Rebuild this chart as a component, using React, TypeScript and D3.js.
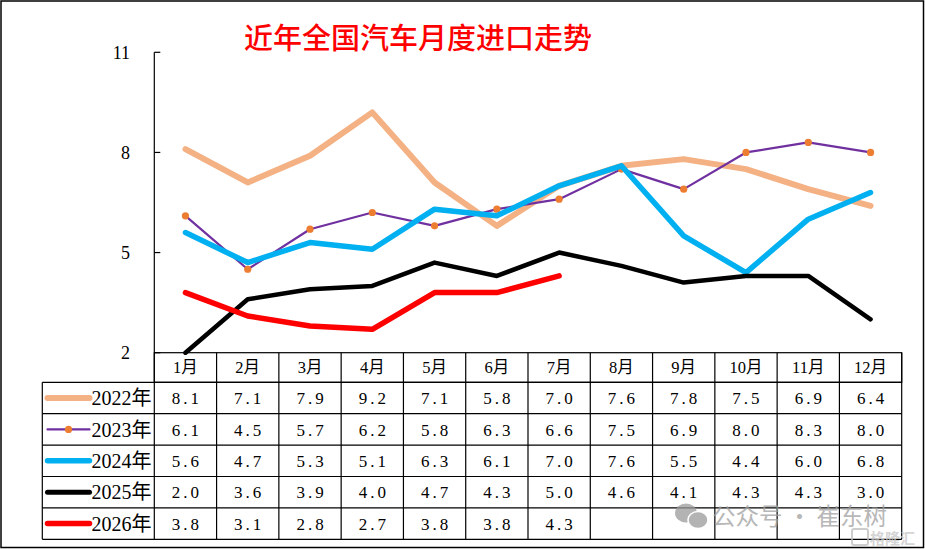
import React from "react";
import * as d3 from "d3";

const months = ["1月", "2月", "3月", "4月", "5月", "6月", "7月", "8月", "9月", "10月", "11月", "12月"];
const yearLabels = ["2022年", "2023年", "2024年", "2025年", "2026年"];
const v2022 = [8.1, 7.1, 7.9, 9.2, 7.1, 5.8, 7.0, 7.6, 7.8, 7.5, 6.9, 6.4];
const v2023 = [6.1, 4.5, 5.7, 6.2, 5.8, 6.3, 6.6, 7.5, 6.9, 8.0, 8.3, 8.0];
const v2024 = [5.6, 4.7, 5.3, 5.1, 6.3, 6.1, 7.0, 7.6, 5.5, 4.4, 6.0, 6.8];
const v2025 = [2.0, 3.6, 3.9, 4.0, 4.7, 4.3, 5.0, 4.6, 4.1, 4.3, 4.3, 3.0];
const v2026 = [3.8, 3.1, 2.8, 2.7, 3.8, 3.8, 4.3];
const yTicks = [2, 5, 8, 11];
const title = "近年全国汽车月度进口走势";

const seriesStyles = [
  { color: "#F4B183", width: 6, marker: false },
  { color: "#7030A0", width: 2.2, marker: true },
  { color: "#00B0F0", width: 5.5, marker: false },
  { color: "#000000", width: 4.5, marker: false },
  { color: "#FF0000", width: 5.5, marker: false },
];
const markerColor = "#ED7D31";

const W = 925;
const H = 549;
const plotLeft = 154.3;
const plotRight = 901.7;
const plotTop = 52.3;
const plotBottom = 352.7;
const headerBottom = 382.3;
const rowH = 31.4;
const legendLeft = 42.3;

const serif = "'Liberation Serif','Noto Sans CJK SC',serif";

export default function App() {
  const series = [v2022, v2023, v2024, v2025, v2026];
  const x = d3.scaleBand<string>().domain(months).range([plotLeft, plotRight]).padding(0);
  const bw = x.bandwidth();
  const cx = (i: number) => (x(months[i]) as number) + bw / 2;
  const y = d3.scaleLinear().domain([2, 11]).range([plotBottom, plotTop]);
  const line = d3
    .line<number>()
    .x((_, i) => cx(i))
    .y((d) => y(d));

  const tableBottom = headerBottom + rowH * series.length;

  return (
    <svg
      width={W}
      height={H}
      style={{ position: "absolute", left: 0, top: 0, background: "#fff" }}
      xmlns="http://www.w3.org/2000/svg"
    >
      <rect x={0} y={0} width={W} height={H} fill="#fff" />
      <rect x={1} y={1} width={922.5} height={546.5} fill="none" stroke="#000" strokeWidth={1.5} />

      {/* title */}
      <text
        x={418}
        y={48.5}
        textAnchor="middle"
        fill="#FF0000"
        fontFamily="'Noto Sans CJK SC',sans-serif"
        fontSize={29}
        fontWeight={500}
      >
        {title}
      </text>

      {/* y axis */}
      <line x1={plotLeft} x2={plotLeft} y1={plotTop} y2={plotBottom} stroke="#000" strokeWidth={1.2} />
      {yTicks.map((t) => (
        <g key={t}>
          <line x1={plotLeft} x2={plotLeft + 6} y1={y(t)} y2={y(t)} stroke="#000" strokeWidth={1.2} />
          <text
            x={130}
            y={y(t)}
            dy="0.35em"
            textAnchor="end"
            fontFamily={serif}
            fontSize={18}
            fill="#000"
          >
            {t}
          </text>
        </g>
      ))}

      {/* series lines */}
      {series.map((vals, si) => {
        const st = seriesStyles[si];
        return (
          <g key={si}>
            <path
              d={line(vals) || ""}
              fill="none"
              stroke={st.color}
              strokeWidth={st.width}
              strokeLinejoin="round"
              strokeLinecap="round"
            />
            {st.marker &&
              vals.map((v, i) => <circle key={i} cx={cx(i)} cy={y(v)} r={3.6} fill={markerColor} />)}
          </g>
        );
      })}

      {/* data table */}
      <g fontFamily={serif} fill="#000">
        <rect
          x={plotLeft}
          y={plotBottom}
          width={plotRight - plotLeft}
          height={headerBottom - plotBottom}
          fill="none"
          stroke="#000"
          strokeWidth={1.2}
        />
        {months.map((m, i) => (
          <text
            key={m}
            x={cx(i)}
            y={(plotBottom + headerBottom) / 2}
            dy="0.35em"
            textAnchor="middle"
            fontSize={16.5}
          >
            {m}
          </text>
        ))}
        {months.map((m) => (
          <line
            key={"v" + m}
            x1={x(m) as number}
            x2={x(m) as number}
            y1={plotBottom}
            y2={tableBottom}
            stroke="#000"
            strokeWidth={1.2}
          />
        ))}
        <line x1={plotRight} x2={plotRight} y1={plotBottom} y2={tableBottom} stroke="#000" strokeWidth={1.2} />
        <line x1={legendLeft} x2={legendLeft} y1={headerBottom} y2={tableBottom} stroke="#000" strokeWidth={1.2} />
        {series.map((_, r) => (
          <line
            key={"h" + r}
            x1={legendLeft}
            x2={plotRight}
            y1={headerBottom + rowH * (r + 1)}
            y2={headerBottom + rowH * (r + 1)}
            stroke="#000"
            strokeWidth={1.2}
          />
        ))}
        <line x1={legendLeft} x2={plotRight} y1={headerBottom} y2={headerBottom} stroke="#000" strokeWidth={1.2} />

        {series.map((vals, r) => {
          const st = seriesStyles[r];
          const yc = headerBottom + rowH * r + rowH / 2;
          return (
            <g key={"r" + r}>
              <line
                x1={47.5}
                x2={89.5}
                y1={yc}
                y2={yc}
                stroke={st.color}
                strokeWidth={st.marker ? 2.2 : Math.max(st.width, 5)}
                strokeLinecap="round"
              />
              {st.marker && <circle cx={68.5} cy={yc} r={3.6} fill={markerColor} />}
              <text x={91.5} y={yc} dy="0.36em" fontSize={20}>
                {yearLabels[r]}
              </text>
              {vals.map((v, i) => (
                <text
                  key={i}
                  x={cx(i) + 1.5}
                  y={yc}
                  dy="0.36em"
                  textAnchor="middle"
                  fontSize={17}
                  letterSpacing={3}
                >
                  {v.toFixed(1)}
                </text>
              ))}
            </g>
          );
        })}
      </g>

      {/* watermark */}
      <g opacity={0.75}>
        <ellipse cx={686} cy={513} rx={11} ry={9.5} fill="#9a9a9a" />
        <ellipse cx={698} cy={520} rx={10} ry={8.5} fill="#9a9a9a" stroke="#fff" strokeWidth={1.5} />
        <text
          x={712}
          y={525}
          fontFamily="'Noto Sans CJK SC',sans-serif"
          fontSize={23.5}
          fill="#a0a0a0"
        >
          公众号 · 崔东树
        </text>
        <rect x={852} y={529} width={16} height={16} rx={2} fill="none" stroke="#bdbdbd" strokeWidth={2} />
        <text
          x={870}
          y={544}
          fontFamily="'Noto Sans CJK SC',sans-serif"
          fontSize={15}
          fontWeight={700}
          fill="#c8c8c8"
        >
          格隆汇
        </text>
      </g>
    </svg>
  );
}
